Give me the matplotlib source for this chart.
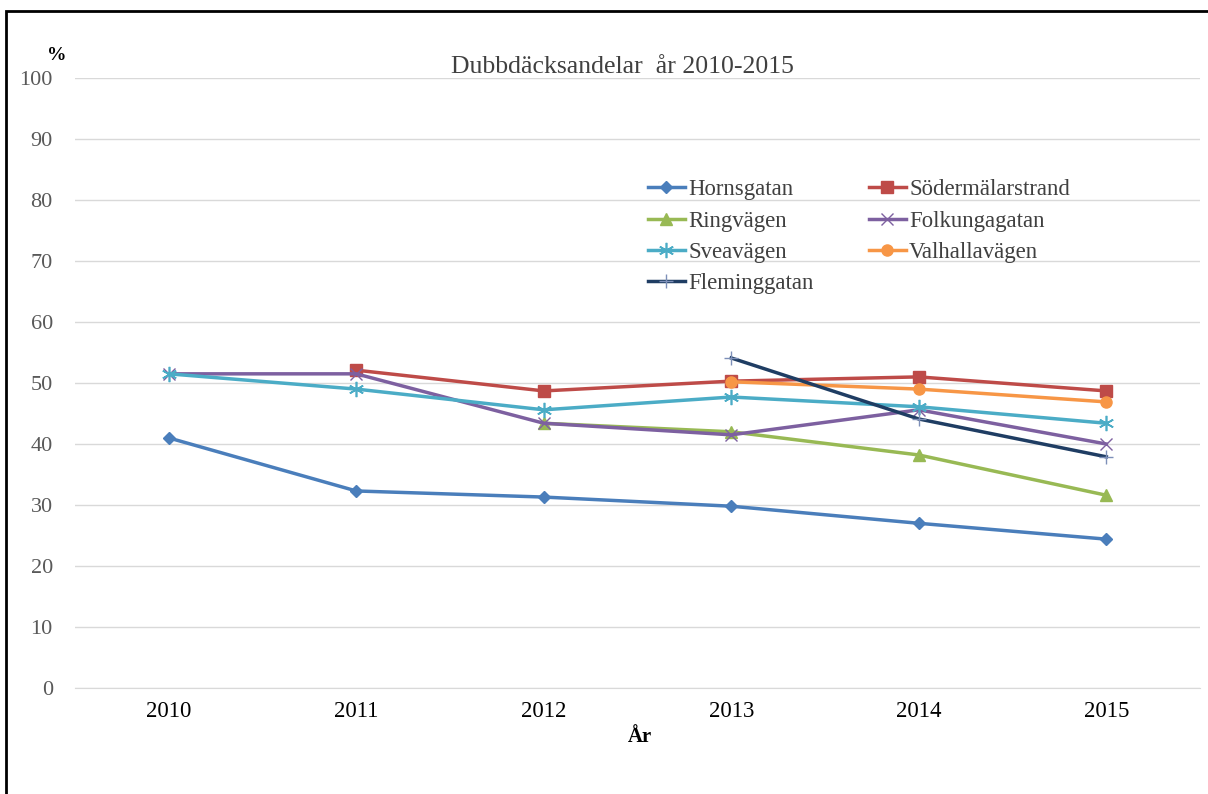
import numpy as np
import matplotlib
matplotlib.use("Agg")
import matplotlib.pyplot as plt
from matplotlib.patches import Rectangle

plt.rcParams['font.family'] = ['Liberation Serif', 'DejaVu Serif']

years = ['2010', '2011', '2012', '2013', '2014', '2015']
nan = np.nan

hornsgatan = [41.0, 32.3, 31.3, 29.8, 27.0, 24.4]
sodermalarstrand = [nan, 52.1, 48.7, 50.3, 51.0, 48.7]
ringvagen = [nan, nan, 43.4, 42.0, 38.2, 31.6]
folkungagatan = [51.5, 51.5, 43.4, 41.5, 45.6, 40.0]
sveavagen = [51.5, 49.0, 45.6, 47.7, 46.1, 43.4]
valhallavagen = [nan, nan, nan, 50.2, 49.0, 46.9]
fleminggatan = [nan, nan, nan, 54.1, 44.1, 37.9]

series = [
    ('Hornsgatan', hornsgatan, '#4A7EBB', 'D', 6),
    ('Södermälarstrand', sodermalarstrand, '#BE4B48', 's', 8),
    ('Ringvägen', ringvagen, '#98B954', '^', 8),
    ('Folkungagatan', folkungagatan, '#7D60A0', 'x', 9),
    ('Sveavägen', sveavagen, '#4BACC6', '*', 0),
    ('Valhallavägen', valhallavagen, '#F79646', 'o', 8),
    ('Fleminggatan', fleminggatan, '#1F3D63', '+', 10),
]

fig = plt.figure(figsize=(12.08, 7.94), dpi=100)
ax = fig.add_axes([0.0621, 0.1335, 0.9313, 0.7683])

x = np.arange(len(years))
handles = {}
for name, vals, col, mk, ms in series:
    if mk == '*':
        # asterisk style marker
        l, = ax.plot(x, vals, color=col, lw=2.5, marker=(6, 2, 0), ms=11,
                     mew=1.2, label=name, zorder=3)
    elif mk in ('x', '+'):
        l, = ax.plot(x, vals, color=col, lw=2.5, marker=mk, ms=ms,
                     mew=1.0, mec='#7d8fb8' if mk == '+' else col, label=name, zorder=3)
    else:
        l, = ax.plot(x, vals, color=col, lw=2.5, marker=mk, ms=ms,
                     label=name, zorder=3)
    handles[name] = l

ax.set_xlim(-0.5, len(years) - 0.5)
ax.set_ylim(0, 100)
ax.set_yticks(range(0, 101, 10))
ax.set_xticks(x)
ax.set_xticklabels(years, fontsize=16.5, color='black')
ax.tick_params(axis='y', labelsize=16, labelcolor='#595959', length=0, pad=16)
ax.tick_params(axis='x', length=0, pad=9)
ax.grid(axis='y', color='#d9d9d9', lw=1)
ax.set_axisbelow(True)
for s in ax.spines.values():
    s.set_visible(False)
ax.spines['bottom'].set_visible(True)
ax.spines['bottom'].set_color('#d9d9d9')

fig.text(0.515, 0.915, 'Dubbdäcksandelar  år 2010-2015', ha='center',
         va='center', fontsize=18.5, color='#404040')
fig.text(0.047, 0.93, '%', ha='center', va='center', fontsize=14,
         fontweight='bold')
fig.text(0.53, 0.072, 'År', ha='center', va='center', fontsize=15,
         fontweight='bold')

order = ['Hornsgatan', 'Ringvägen', 'Sveavägen', 'Fleminggatan',
         'Södermälarstrand', 'Folkungagatan', 'Valhallavägen']
ax.legend([handles[n] for n in order], order, ncol=2, frameon=False,
          loc='upper left', bbox_to_anchor=(0.529, 0.786),
          bbox_transform=fig.transFigure, fontsize=16.4, labelcolor='#404040',
          handlelength=1.6, handletextpad=0.15, columnspacing=2.45,
          labelspacing=0.46, borderaxespad=0)

fig.patches.append(Rectangle((6 / 1208, -0.1), 1.2, (794 - 11) / 794 + 0.1,
                             transform=fig.transFigure, fill=False,
                             edgecolor='black', lw=2))

fig.savefig('out.png', dpi=100)
